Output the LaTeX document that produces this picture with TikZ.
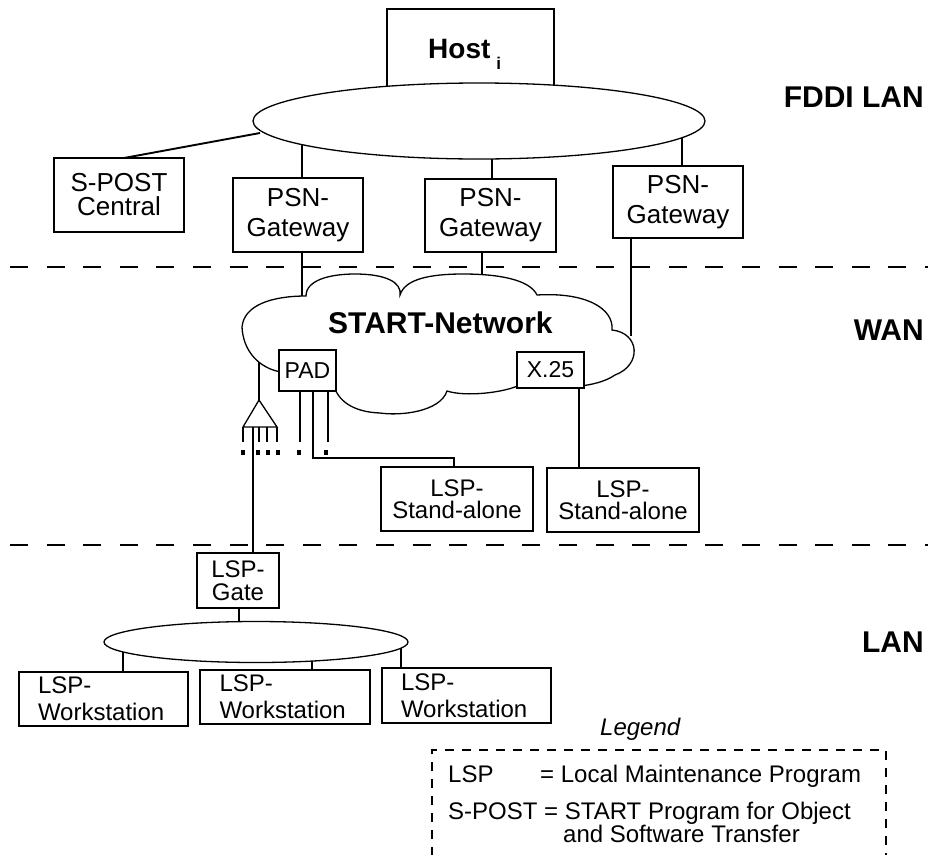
\documentclass[tikz,border=0pt]{standalone}
\usepackage{fontspec}
\setmainfont{Liberation Sans}
\usetikzlibrary{shapes.geometric}
\begin{document}
\begin{tikzpicture}[x=1pt,y=-1pt,
  box/.style={draw, line width=2.4pt, fill=white, inner sep=0pt, align=center, font=\fontsize{26}{30}\selectfont},
  conn/.style={line width=1.9pt},
  thinline/.style={line width=1.3pt},
  sepline/.style={line width=2.5pt, dash pattern=on 18pt off 18.6pt},
  lbl/.style={font=\bfseries\fontsize{30}{30}\selectfont, anchor=base east, inner sep=0pt},
  txt/.style={font=\fontsize{24}{24}\selectfont, anchor=base west, inner sep=0pt},
  dotmark/.style={fill=black},
]
\useasboundingbox (0,0) rectangle (928,854);

% ---------- FDDI LAN ----------
\node[box, minimum width=167pt, minimum height=86pt] (host) at (470.5,52) {};
\node[draw, ellipse, thinline, fill=white, minimum width=452pt, minimum height=76pt, inner sep=0pt] (fddi) at (479,121) {};
\node[anchor=base west, inner sep=0pt, font=\bfseries\fontsize{28}{30}\selectfont] (hostlbl) at (428,58) {Host\hspace{6pt}\raisebox{-11pt}{\fontsize{17}{17}\selectfont i}};

\node[box, minimum width=130pt, minimum height=74pt, font=\fontsize{26}{24}\selectfont] (spost) at (119,195) {S-POST\\Central};
\node[box, minimum width=130pt, minimum height=74pt] (psn1) at (298,215) {PSN-\\Gateway};
\node[box, minimum width=131pt, minimum height=73pt] (psn2) at (490.5,215.5) {PSN-\\Gateway};
\node[box, minimum width=130pt, minimum height=72pt] (psn3) at (678,202) {PSN-\\Gateway};

\coordinate (fs) at (260,133);
\coordinate (f1) at (302,145);
\coordinate (f2) at (492,159);
\coordinate (f3) at (682,138);
\draw[conn] (fs) -- (124,158);
\draw[conn] (f1) -- (f1 |- psn1.north);
\draw[conn] (f2) -- (f2 |- psn2.north);
\draw[conn] (f3) -- (f3 |- psn3.north);

\node[lbl] (fddilan) at (924,107) {FDDI LAN};

% ---------- separators ----------
\coordinate (s1a) at (10,267); \coordinate (s1b) at (928,267);
\coordinate (s2a) at (10,545); \coordinate (s2b) at (928,545);
\draw[sepline] (s1a) -- (s1b);
\draw[sepline] (s2a) -- (s2b);

% ---------- WAN cloud ----------
\draw[thinline] (242,327)
  .. controls (244,305) and (272,296) .. (306,296)
  .. controls (306,280) and (330,274) .. (355,274)
  .. controls (385,274) and (402,282) .. (400,295)
  .. controls (405,279) and (430,274) .. (463,274)
  .. controls (500,274) and (530,280) .. (537,295)
  .. controls (585,292) and (614,308) .. (612,330)
  .. controls (640,333) and (642,365) .. (615,375)
  .. controls (605,382) and (590,385) .. (580,386)
  -- (522,384)
  .. controls (505,393) and (465,397) .. (447,391)
  .. controls (440,412) and (400,416) .. (380,413)
  .. controls (352,412) and (338,400) .. (334,386)
  -- (281,372)
  .. controls (258,368) and (243,350) .. (242,327) -- cycle;

\node[anchor=base west, inner sep=0pt, font=\bfseries\fontsize{30}{30}\selectfont] (startnet) at (328,333) {START-Network};
\node[box, minimum width=57pt, minimum height=41pt, font=\fontsize{23}{23}\selectfont] (pad) at (307.5,370.5) {PAD};
\node[box, minimum width=67pt, minimum height=36pt, font=\fontsize{23}{23}\selectfont] (x25) at (550.5,370) {X.25};

\coordinate (c1) at (302,296);
\coordinate (c2) at (482,275);
\coordinate (c3) at (631,336);
\draw[conn] (c1 |- psn1.south) -- (c1);
\draw[conn] (c2 |- psn2.south) -- (c2);
\draw[conn] (c3 |- psn3.south) -- (c3);

\node[lbl] (wan) at (924,340) {WAN};

% multiplexer triangle
\coordinate (cl) at (259,362);
\coordinate (apex) at (259,400);
\coordinate (tl) at (243,427);
\coordinate (tr) at (277,427);
\draw[conn] (cl) -- (apex);
\draw[thinline, line join=miter] (apex) -- (tl) -- (tr) -- cycle;
\foreach \xx in {243,259,267,277} {
  \draw[conn] (\xx,427) -- (\xx,442);
}

% PAD lines
\coordinate (pa) at (300,442);
\coordinate (pc) at (328,442);
\coordinate (bend) at (454,458);
\draw[conn] (pad.south -| pa) -- (pa);
\draw[conn] (pad.south -| pc) -- (pc);
\draw[conn] (pad.south -| 313,0) |- (bend) -- (bend |- 0,467);

% dots
\foreach \xx in {243,258,268,278,299,326} {
  \fill[dotmark] (\xx-2,450) rectangle (\xx+2,454.5);
}

% Stand-alone
\node[box, minimum width=152pt, minimum height=64pt, font=\fontsize{24}{22}\selectfont] (sa1) at (457,499) {LSP-\\Stand-alone};
\node[box, minimum width=152pt, minimum height=64pt, font=\fontsize{24}{22}\selectfont] (sa2) at (623,500) {LSP-\\Stand-alone};
\coordinate (xd) at (579,388);
\draw[conn] (x25.south -| xd) -- (xd |- sa2.north);

% ---------- LAN ----------
\node[box, minimum width=82pt, minimum height=55pt, font=\fontsize{24}{23}\selectfont] (gate) at (238,580.5) {LSP-\\Gate};
\draw[conn] (253,427) -- (gate.north -| 253,0);

\node[draw, ellipse, thinline, fill=white, minimum width=304pt, minimum height=41pt, inner sep=0pt] (lan) at (256,642) {};
\draw[conn] (gate.south -| 239,0) -- (239,622);

\node[box, minimum width=169pt, minimum height=54pt, text width=131pt, align=left, font=\fontsize{24}{27}\selectfont] (ws1) at (103.5,699) {LSP-\\Workstation};
\node[box, minimum width=170pt, minimum height=54pt, text width=131pt, align=left, font=\fontsize{24}{27}\selectfont] (ws2) at (285,697) {LSP-\\Workstation};
\node[box, minimum width=169pt, minimum height=55pt, text width=131pt, align=left, font=\fontsize{24}{27}\selectfont] (ws3) at (466.5,695.5) {LSP-\\Workstation};

\coordinate (l1) at (123,652);
\coordinate (l2) at (312,661);
\coordinate (l3) at (401,648);
\draw[conn] (l1) -- (l1 |- ws1.north);
\draw[conn] (l2) -- (l2 |- ws2.north);
\draw[conn] (l3) -- (l3 |- ws3.north);

\node[lbl] (lanlbl) at (924,652) {LAN};

% ---------- Legend ----------
\node[anchor=base west, inner sep=0pt, font=\itshape\fontsize{24}{24}\selectfont] (legend) at (600,735) {Legend};
\draw[line width=2.5pt, dash pattern=on 9pt off 8pt] (432,856) -- (432,750) -- (886,750) -- (886,856);
\node[txt] (lsp) at (448,782) {LSP};
\node[txt] (lspdef) at (540,782) {= Local Maintenance Program};
\node[txt] (spostdef) at (448,819) {S-POST = START Program for Object};
\node[txt] (spostdef2) at (563,842) {and Software Transfer};

\end{tikzpicture}
\end{document}
